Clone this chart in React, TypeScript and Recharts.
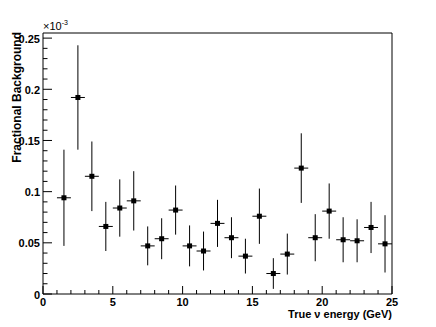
import React from "react";
import { ScatterChart, Scatter, XAxis, YAxis, ErrorBar, ReferenceArea } from "recharts";

// bin centres (GeV)
const energy = [1.5, 2.5, 3.5, 4.5, 5.5, 6.5, 7.5, 8.5, 9.5, 10.5, 11.5, 12.5, 13.5, 14.5, 15.5, 16.5, 17.5, 18.5, 19.5, 20.5, 21.5, 22.5, 23.5, 24.5];
// fractional background, in units of 1e-3
const fraction = [0.094, 0.192, 0.115, 0.066, 0.084, 0.091, 0.047, 0.054, 0.082, 0.047, 0.042, 0.069, 0.055, 0.037, 0.076, 0.020, 0.039, 0.123, 0.055, 0.081, 0.053, 0.052, 0.065, 0.049];
const fractionErr = [0.047, 0.051, 0.034, 0.024, 0.028, 0.029, 0.019, 0.020, 0.024, 0.020, 0.019, 0.023, 0.020, 0.017, 0.027, 0.015, 0.020, 0.034, 0.023, 0.027, 0.022, 0.021, 0.025, 0.028];
const binWidth = 1;

const xTicks = [0, 1, 2, 3, 4, 5, 6, 7, 8, 9, 10, 11, 12, 13, 14, 15, 16, 17, 18, 19, 20, 21, 22, 23, 24, 25];
const yTicks = Array.from({ length: 26 }, (_, i) => Number((i * 0.01).toFixed(2)));

const data = energy.map((e, i) => ({
  e,
  f: fraction[i],
  ey: fractionErr[i],
  ex: binWidth / 2,
}));

const FONT = "'Liberation Sans', Arial, Helvetica, sans-serif";

function XTick(props: any) {
  const { x, y, payload } = props;
  const v = payload.value;
  const major = v % 5 === 0;
  return (
    <g>
      <line x1={x} x2={x} y1={y} y2={y - (major ? 8 : 4)} stroke="#000" />
      {major && (
        <text x={x} y={y + 12} textAnchor="middle" fontFamily={FONT} fontWeight="bold" fontSize={11} fill="#000">
          {v}
        </text>
      )}
    </g>
  );
}

function YTick(props: any) {
  const { x, y, payload } = props;
  const v = payload.value;
  const major = Math.abs(v / 0.05 - Math.round(v / 0.05)) < 1e-6;
  return (
    <g>
      <line x1={x} x2={x + (major ? 9 : 4.5)} y1={y} y2={y} stroke="#000" />
      {major && (
        <text x={x - 3} y={y + 4.5} textAnchor="end" fontFamily={FONT} fontWeight="bold" fontSize={11} fill="#000">
          {String(v)}
        </text>
      )}
    </g>
  );
}

const Square = (props: any) => {
  const { cx, cy } = props;
  return <rect x={cx - 2.5} y={cy - 2.5} width={5} height={5} fill="#000" />;
};

export default function App() {
  return (
    <div style={{ position: "absolute", left: 0, top: 0, width: 436, height: 327, background: "#fff" }}>
      <ScatterChart width={436} height={327} margin={{ top: 33, right: 44, bottom: 0, left: 0 }}>
        <XAxis
          type="number"
          dataKey="e"
          domain={[0, 25]}
          ticks={xTicks}
          interval={0}
          tickSize={0}
          tickMargin={0}
          axisLine={false}
          tickLine={false}
          height={33}
          tick={<XTick />}
          allowDataOverflow
        />
        <YAxis
          type="number"
          dataKey="f"
          domain={[0, 0.255]}
          ticks={yTicks}
          interval={0}
          tickSize={0}
          tickMargin={0}
          axisLine={false}
          tickLine={false}
          width={43}
          tick={<YTick />}
          allowDataOverflow
        />
        <ReferenceArea x1={0} x2={25} y1={0} y2={0.255} fill="none" stroke="#000" strokeWidth={1} />
        <Scatter data={data} shape={<Square />} isAnimationActive={false}>
          <ErrorBar dataKey="ey" direction="y" width={0} stroke="#000" strokeWidth={1} isAnimationActive={false} />
          <ErrorBar dataKey="ex" direction="x" width={0} stroke="#000" strokeWidth={1} isAnimationActive={false} />
        </Scatter>
      </ScatterChart>
      <svg width={436} height={327} style={{ position: "absolute", left: 0, top: 0, pointerEvents: "none" }}>
        <text x={43} y={30} fontFamily={FONT} fontSize={11} fill="#000">
          ×10
          <tspan dy={-5} fontSize={7}>-3</tspan>
        </text>
        <text
          transform="translate(21,32) rotate(-90)"
          textAnchor="end"
          fontFamily={FONT}
          fontWeight="bold"
          fontSize={12}
          fill="#000"
        >
          Fractional Background
        </text>
        <text x={392} y={318} textAnchor="end" fontFamily={FONT} fontWeight="bold" fontSize={11} fill="#000">
          True ν energy (GeV)
        </text>
      </svg>
    </div>
  );
}
